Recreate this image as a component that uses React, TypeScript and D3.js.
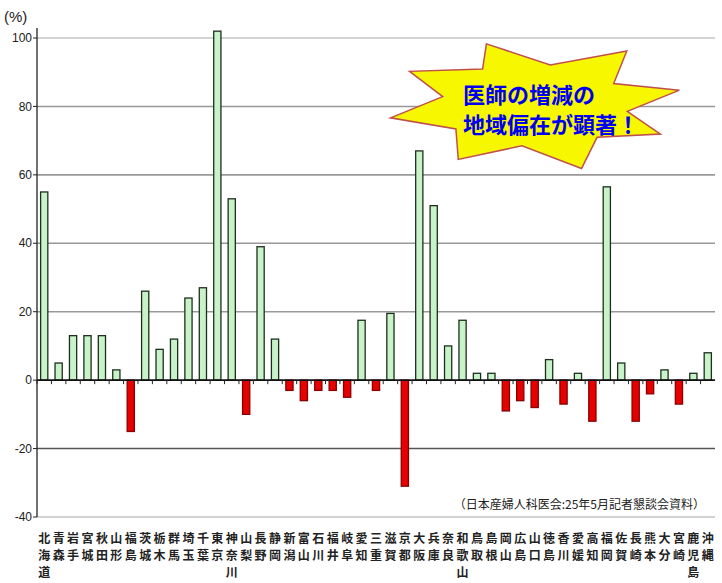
import * as d3 from "d3";

const prefectures = [
  "北海道", "青森", "岩手", "宮城", "秋田", "山形", "福島", "茨城", "栃木", "群馬",
  "埼玉", "千葉", "東京", "神奈川", "山梨", "長野", "静岡", "新潟", "富山", "石川",
  "福井", "岐阜", "愛知", "三重", "滋賀", "京都", "大阪", "兵庫", "奈良", "和歌山",
  "鳥取", "島根", "岡山", "広島", "山口", "徳島", "香川", "愛媛", "高知", "福岡",
  "佐賀", "長崎", "熊本", "大分", "宮崎", "鹿児島", "沖縄",
];

// 医師の増減率 (%)
const changeRates = [
  55, 5, 13, 13, 13, 3, -15, 26, 9, 12,
  24, 27, 102, 53, -10, 39, 12, -3, -6, -3,
  -3, -5, 17.5, -3, 19.5, -31, 67, 51, 10, 17.5,
  2, 2, -9, -6, -8, 6, -7, 2, -12, 56.5,
  5, -12, -4, 3, -7, 2, 8,
];

const yTicks = [-40, -20, 0, 20, 40, 60, 80, 100];
const sourceNote = "（日本産婦人科医会:25年5月記者懇談会資料）";
const calloutLines = ["医師の増減の", "地域偏在が顕著！"];

const W = 722;
const H = 583;
const left = 37;
const right = 715;

export default function App() {
  const x = d3.scaleBand<string>().domain(prefectures).range([left, right]).paddingInner(0.5).paddingOuter(0.25);
  const y = d3.scaleLinear().domain([-40, 100]).range([517, 38]);

  const gridColor = (t: number) => (t === 100 || t === -40 ? "#c4c4c4" : t === -20 ? "#555" : "#999");

  // starburst around the callout text
  const cx = 535;
  const cy = 104;
  const spikes = [
    [-110, 1.0], [-80, 0.62], [-52, 1.05], [-30, 0.64], [-12, 1.04], [10, 0.66],
    [28, 1.0], [50, 0.68], [72, 1.06], [98, 0.66], [122, 1.02], [145, 0.68],
    [168, 1.04], [190, 0.66], [210, 1.02], [236, 0.66],
  ];
  const burst = spikes
    .map(([a, r]) => {
      const rad = (a * Math.PI) / 180;
      return `${cx + Math.cos(rad) * 142 * r},${cy + Math.sin(rad) * 64 * r}`;
    })
    .join(" ");

  return (
    <div style={{ position: "fixed", top: 0, left: 0 }}>
      <svg width={W} height={H} style={{ display: "block", background: "#fff" }}>
        {/* gridlines */}
        {yTicks.filter((t) => t !== 0).map((t) => (
          <line key={t} x1={left} x2={right} y1={y(t)} y2={y(t)} stroke={gridColor(t)} strokeWidth={1.6} />
        ))}

        {/* y axis */}
        <line x1={left} x2={left} y1={28} y2={y(-40)} stroke="#222" strokeWidth={1.3} />
        {yTicks.map((t) => (
          <g key={t}>
            <line x1={left - 4} x2={left} y1={y(t)} y2={y(t)} stroke="#222" />
            <text
              x={left - 5}
              y={y(t)}
              dy="0.35em"
              textAnchor="end"
              fontSize={12}
              fontFamily="'Liberation Sans Narrow', 'Arial Narrow', sans-serif"
              fill="#222"
            >
              {t}
            </text>
          </g>
        ))}
        <text x={4} y={22} fontSize={15} fontFamily="'Liberation Sans', Arial, sans-serif" fill="#222">
          (%)
        </text>

        {/* bars */}
        {prefectures.map((p, i) => {
          const v = changeRates[i];
          const pos = v >= 0;
          return (
            <rect
              key={p}
              x={x(p)}
              y={pos ? y(v) : y(0)}
              width={x.bandwidth()}
              height={Math.abs(y(v) - y(0))}
              fill={pos ? "#c8f2c8" : "#e60000"}
              stroke={pos ? "#1e2e1e" : "#8a0000"}
              strokeWidth={1.3}
            />
          );
        })}

        {/* zero line with category ticks */}
        <line x1={left} x2={right} y1={y(0)} y2={y(0)} stroke="#111" strokeWidth={1.6} />
        {prefectures.map((p) => {
          const bx = (x(p) ?? 0) - (x.step() - x.bandwidth()) / 2;
          return <line key={p} x1={bx} x2={bx} y1={y(0)} y2={y(0) + 4} stroke="#222" />;
        })}

        {/* category labels, vertical */}
        {prefectures.map((p) => {
          const cxp = (x(p) ?? 0) + x.bandwidth() / 2;
          return (
            <text
              key={p}
              textAnchor="middle"
              fontSize={12}
              fontWeight={600}
              fontFamily="'Noto Sans CJK JP', sans-serif"
              fill="#222"
            >
              {Array.from(p).map((ch, k) => (
                <tspan key={k} x={cxp} y={543 + k * 17}>
                  {ch}
                </tspan>
              ))}
            </text>
          );
        })}

        {/* source */}
        <text x={705} y={509} textAnchor="end" fontSize={12} fontFamily="'Noto Sans CJK JP', sans-serif" fill="#222">
          {sourceNote}
        </text>

        {/* callout */}
        <polygon points={burst} fill="#f7f700" stroke="#c0504d" strokeWidth={1.5} />
        {calloutLines.map((l, i) => (
          <text
            key={i}
            x={463}
            y={103 + i * 30}
            fontSize={22}
            fontWeight={700}
            fontFamily="'Noto Sans CJK JP', sans-serif"
            fill="#0000ee"
          >
            {l}
          </text>
        ))}
      </svg>
    </div>
  );
}
